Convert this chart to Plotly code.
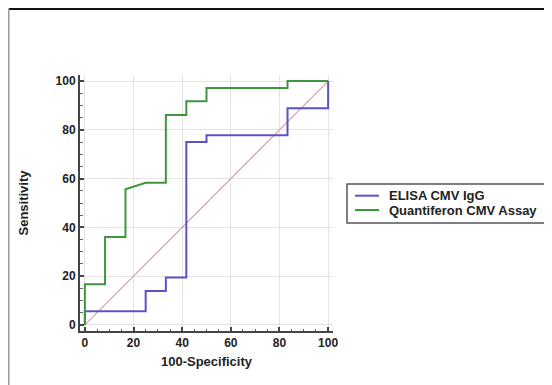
import plotly.graph_objects as go

# ROC step curves (100-Specificity, Sensitivity)
elisa_x = [0, 0, 25, 25, 33.3, 33.3, 41.7, 41.7, 50, 50, 83.3, 83.3, 100, 100]
elisa_y = [0, 5.6, 5.6, 13.9, 13.9, 19.4, 19.4, 75, 75, 77.8, 77.8, 88.9, 88.9, 100]

quanti_x = [0, 0, 8.3, 8.3, 16.7, 16.7, 25, 33.3, 33.3, 41.7, 41.7, 50, 50, 83.3, 83.3, 100]
quanti_y = [0, 16.7, 16.7, 36.1, 36.1, 55.6, 58.3, 58.3, 86.1, 86.1, 91.7, 91.7, 97.2, 97.2, 100, 100]

diag_x = [0, 100]
diag_y = [0, 100]

names = ["ELISA CMV IgG", "Quantiferon CMV Assay"]
colors = ["rgb(92,82,200)", "rgb(62,150,62)"]
tick_vals = [0, 20, 40, 60, 80, 100]

FONT = "Liberation Sans, Arial, sans-serif"

fig = go.Figure()
fig.add_trace(go.Scatter(x=diag_x, y=diag_y, mode="lines",
                         line=dict(color="rgb(215,160,170)", width=1.2),
                         showlegend=False, hoverinfo="skip"))
fig.add_trace(go.Scatter(x=elisa_x, y=elisa_y, mode="lines", name=names[0],
                         line=dict(color=colors[0], width=2), showlegend=False))
fig.add_trace(go.Scatter(x=quanti_x, y=quanti_y, mode="lines", name=names[1],
                         line=dict(color=colors[1], width=2), showlegend=False))

# figure-pixel layout (page is offset by the 8px body margin)
L, R, T, B = 72, 325, 67, 323
W, H = 552, 385


def px(x):
    return (x - L) / (R - L)


def py(y):
    return (B - y) / (B - T)


axis_common = dict(
    showline=True, linecolor="#444", linewidth=2,
    showgrid=True, gridcolor="#e3e3e3", gridwidth=1,
    zeroline=False,
    tickvals=tick_vals,
    ticks="inside",
    ticklen=4, tickwidth=1.5, tickcolor="#444",
    tickfont=dict(family=FONT, size=12, color="#222", weight="bold"),
    minor=dict(dtick=5, ticklen=2.5, tickwidth=1, tickcolor="#666", showgrid=False, ticks="inside"),
)

title_font = dict(family=FONT, size=13, color="#222", weight="bold")

fig.update_layout(
    width=W, height=H,
    margin=dict(l=L, r=W - R, t=T, b=H - B),
    paper_bgcolor="white", plot_bgcolor="white",
    xaxis=dict(range=[-2, 102],
               title=dict(text="100-Specificity", standoff=7, font=title_font),
               **axis_common),
    yaxis=dict(range=[-2.5, 102.5],
               title=dict(text="Sensitivity", standoff=24, font=title_font),
               **axis_common),
    showlegend=False,
)

# legend drawn as box + samples + text
fig.add_shape(type="rect", xref="paper", yref="paper",
              x0=px(339), x1=px(542), y0=py(176), y1=py(215),
              line=dict(color="#555", width=1.5), fillcolor="white")
for i, (name, col) in enumerate(zip(names, colors)):
    yy = 187.7 + i * 14.3
    fig.add_shape(type="line", xref="paper", yref="paper",
                  x0=px(347), x1=px(371), y0=py(yy), y1=py(yy),
                  line=dict(color=col, width=2))
    fig.add_annotation(xref="paper", yref="paper", x=px(379), y=py(yy),
                       xanchor="left", yanchor="middle", showarrow=False,
                       text=name, font=title_font)

# outer frame lines (top black, left gray) as in the reference image
fig.add_shape(type="line", xref="paper", yref="paper",
              x0=px(0.75), x1=px(W + 2), y0=py(1), y1=py(1),
              line=dict(color="#111", width=2))
fig.add_shape(type="line", xref="paper", yref="paper",
              x0=px(0.75), x1=px(0.75), y0=py(1), y1=py(H + 2),
              line=dict(color="#999", width=1.5))

fig.write_html("out.html")
